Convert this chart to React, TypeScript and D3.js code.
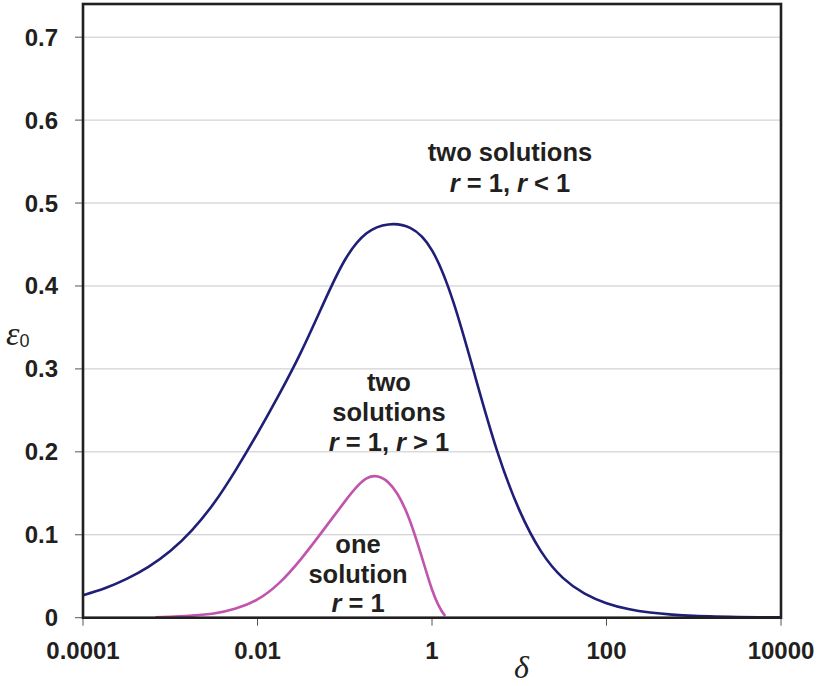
import React from "react";
import * as d3 from "d3";

const blueDelta = [0.0001, 0.0001778, 0.0003162, 0.0005623, 0.001, 0.001778, 0.003162, 0.005623, 0.01, 0.01778, 0.03162, 0.05623, 0.1, 0.1778, 0.3162, 0.5623, 1, 1.778, 3.162, 5.623, 10, 17.78, 31.62, 56.23, 100, 177.8, 316.2, 562.3, 1000, 1778, 3162, 5623, 10000];
const blueEps = [0.027, 0.0355, 0.0468, 0.0613, 0.0803, 0.1057, 0.138, 0.178, 0.2223, 0.2695, 0.3205, 0.3775, 0.431, 0.4635, 0.4742, 0.47, 0.443, 0.379, 0.289, 0.2, 0.13, 0.08, 0.048, 0.029, 0.0175, 0.0104, 0.0062, 0.0037, 0.0022, 0.0014, 0.0009, 0.0006, 0.0004];

const pinkDelta = [0.000676, 0.001, 0.001778, 0.003162, 0.005623, 0.01, 0.01778, 0.03162, 0.05623, 0.1, 0.1778, 0.3162, 0.5623, 1, 1.413];
const pinkEps = [0.0005, 0.001, 0.0025, 0.005, 0.011, 0.022, 0.042, 0.071, 0.105, 0.14, 0.168, 0.163, 0.116, 0.034, 0.002];

const xTicks = [0.0001, 0.01, 1, 100, 10000];
const xTickLabels = ["0.0001", "0.01", "1", "100", "10000"];
const yTicks = [0, 0.1, 0.2, 0.3, 0.4, 0.5, 0.6, 0.7];
const yTickLabels = ["0", "0.1", "0.2", "0.3", "0.4", "0.5", "0.6", "0.7"];

const W = 821, H = 686;
const L = 83, R = 781, T = 4, B = 617.7;
const TXT = "#231f20";
const FONT = "'Liberation Sans', Arial, sans-serif";

export default function App() {
  const x = d3.scaleLog().domain([0.0001, 10000]).range([L, R]);
  const y = d3.scaleLinear().domain([0, 0.74]).range([B, T]);
  const line = d3
    .line<[number, number]>()
    .x((d) => x(d[0]))
    .y((d) => y(d[1]))
    .curve(d3.curveNatural);
  const blue = blueDelta.map((d, i) => [d, blueEps[i]] as [number, number]);
  const pink = pinkDelta.map((d, i) => [d, pinkEps[i]] as [number, number]);

  const lab = (lines: React.ReactNode[], cx: number, y0: number, dy: number) =>
    lines.map((l, i) => (
      <text key={i} x={cx} y={y0 + i * dy} textAnchor="middle" fontFamily={FONT} fontWeight="bold" fontSize={25.5} fill={TXT}>
        {l}
      </text>
    ));

  return (
    <svg width={W} height={H} style={{ position: "absolute", left: 0, top: 0, background: "#fff" }}>
      <rect x={0} y={0} width={W} height={H} fill="#fff" />
      <defs>
        <clipPath id="plotclip">
          <rect x={L} y={T} width={R - L} height={B - T} />
        </clipPath>
      </defs>
      {yTicks.slice(1).map((t) => (
        <line key={t} x1={L} x2={R} y1={y(t)} y2={y(t)} stroke="#c8c8c8" strokeWidth={1} />
      ))}
      {yTicks.map((t) => (
        <line key={"yt" + t} x1={75} x2={L} y1={y(t)} y2={y(t)} stroke="#555" strokeWidth={1} />
      ))}
      {xTicks.map((t) => (
        <line key={"xt" + t} x1={x(t)} x2={x(t)} y1={B} y2={B + 8} stroke="#555" strokeWidth={1} />
      ))}
      <g clipPath="url(#plotclip)">
        <path d={line(blue) || ""} fill="none" stroke="#1f1f77" strokeWidth={2.6} />
        <path d={line(pink) || ""} fill="none" stroke="#c154ac" strokeWidth={2.6} />
      </g>
      <rect x={L} y={T} width={R - L} height={B - T} fill="none" stroke={TXT} strokeWidth={2.6} />
      {yTicks.map((t, i) => (
        <text key={"yl" + t} x={58} y={y(t) + 8.5} textAnchor="end" fontFamily={FONT} fontWeight="bold" fontSize={24} fill={TXT}>
          {yTickLabels[i]}
        </text>
      ))}
      {xTicks.map((t, i) => (
        <text key={"xl" + t} x={x(t)} y={659} textAnchor="middle" fontFamily={FONT} fontWeight="bold" fontSize={24} fill={TXT}>
          {xTickLabels[i]}
        </text>
      ))}
      <text x={514} y={678} fontFamily="'Liberation Serif', 'Times New Roman', serif" fontStyle="italic" fontSize={32} fill={TXT}>
        δ
      </text>
      <text x={6} y={345} fontFamily="'Liberation Serif', 'Times New Roman', serif" fontStyle="italic" fontSize={34} fill={TXT}>
        ε
        <tspan fontFamily={FONT} fontStyle="normal" fontSize={18} dy={2}>0</tspan>
      </text>
      {lab(["two solutions", <><tspan fontStyle="italic">r</tspan> = 1, <tspan fontStyle="italic">r</tspan> &lt; 1</>], 510, 161, 31)}
      {lab(["two", "solutions", <><tspan fontStyle="italic">r</tspan> = 1, <tspan fontStyle="italic">r</tspan> &gt; 1</>], 389, 391, 30)}
      {lab(["one", "solution", <><tspan fontStyle="italic">r</tspan> = 1</>], 358, 553, 29.5)}
    </svg>
  );
}
